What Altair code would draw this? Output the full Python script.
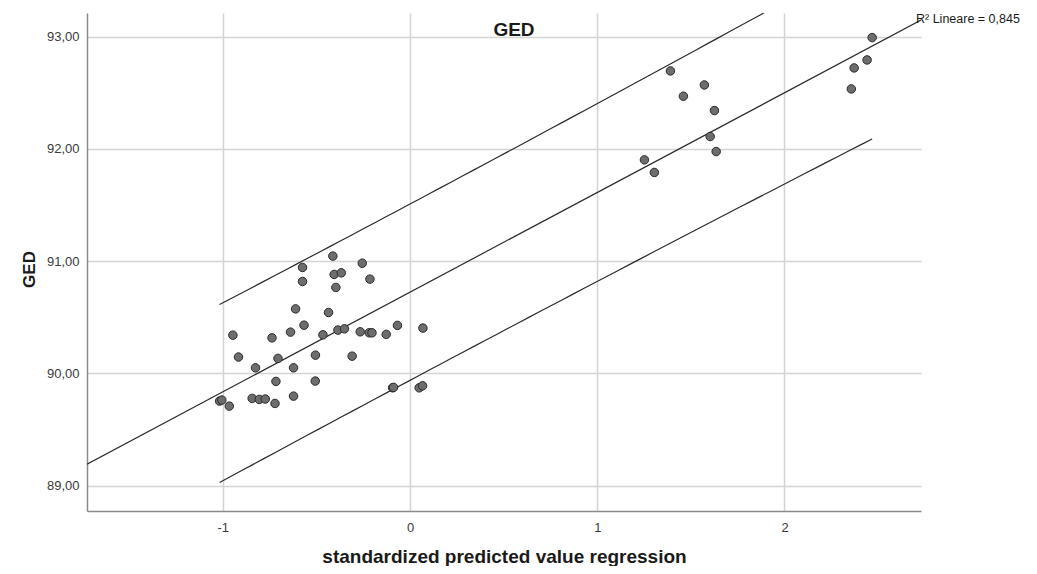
import numpy as np
import pandas as pd
import altair as alt

# standardized predicted value (x) and GED (y)
x_vals = [-0.412, -0.574, -0.255, -0.405, -0.367, -0.574, -0.214, -0.396, -0.611, -0.435,
          -0.566, -0.946, -0.737, -0.638, -0.465, -0.385, -0.350, -0.266, -0.218, -0.203,
          -0.127, -0.067, 0.069, -0.916, -0.705, -0.505, -0.309, -0.825, -0.622, -0.716,
          -0.506, -0.093, -0.088, 0.049, 0.067, -1.017, -1.005, -0.965, -0.843, -0.805,
          -0.773, -0.721, -0.622,
          1.391, 1.572, 1.460, 1.626, 1.603, 1.635, 1.252, 1.305, 2.468, 2.372, 2.441, 2.357]
y_vals = [91.045, 90.944, 90.982, 90.882, 90.896, 90.819, 90.840, 90.766, 90.575, 90.543,
          90.430, 90.341, 90.317, 90.368, 90.344, 90.386, 90.397, 90.371, 90.362, 90.362,
          90.348, 90.428, 90.404, 90.146, 90.134, 90.163, 90.154, 90.050, 90.050, 89.929,
          89.932, 89.872, 89.876, 89.872, 89.890, 89.754, 89.763, 89.709, 89.778, 89.769,
          89.772, 89.733, 89.798,
          92.694, 92.569, 92.469, 92.341, 92.110, 91.976, 91.902, 91.790, 92.991, 92.721, 92.792, 92.534]

x_ticks = [-1, 0, 1, 2]
y_ticks = [89, 90, 91, 92, 93]
x_domain = [-1.725, 2.729]
y_domain = [88.775, 93.21]
r2_label = "R² Lineare = 0,845"
T_CRIT = 2.006  # t(0.975, n-2)

FONT = "Liberation Sans"
INK = "#2b2b2b"

xa = np.array(x_vals)
ya = np.array(y_vals)
n = len(xa)
b, a = np.polyfit(xa, ya, 1)
resid = ya - (a + b * xa)
s = np.sqrt((resid ** 2).sum() / (n - 2))
xm = xa.mean()
sxx = ((xa - xm) ** 2).sum()

points = pd.DataFrame({"x": x_vals, "y": y_vals})

fit_x = np.linspace(x_domain[0], x_domain[1], 2)
fit = pd.DataFrame({"x": fit_x, "y": a + b * fit_x})

band_x = np.linspace(xa.min(), xa.max(), 60)
half = T_CRIT * s * np.sqrt(1 + 1 / n + (band_x - xm) ** 2 / sxx)
bands = pd.concat([
    pd.DataFrame({"x": band_x, "y": a + b * band_x + half, "band": "upper"}),
    pd.DataFrame({"x": band_x, "y": a + b * band_x - half, "band": "lower"}),
])

label = pd.DataFrame({"x": [x_domain[1]], "y": [a + b * x_domain[1]], "t": [r2_label]})

xs = alt.Scale(domain=x_domain, nice=False, zero=False)
ys = alt.Scale(domain=y_domain, nice=False, zero=False)

x_axis = alt.Axis(values=x_ticks, labelExpr="'' + datum.value", title="standardized predicted value regression",
                  titleFontSize=19, titleFontWeight="bold", titleFont=FONT, titleColor="#1a1a1a",
                  titleY=51, titleBaseline="alphabetic", labelPadding=10)
y_axis = alt.Axis(values=y_ticks, labelExpr="replace(format(datum.value, '.2f'), '.', ',')", title="GED",
                  titleFontSize=17, titleFontWeight="bold", titleFont=FONT, titleColor="#1a1a1a",
                  titleAngle=-90, titleX=-58, titleY=256, titleAlign="center", titleBaseline="middle",
                  labelPadding=8)

base_x = alt.X("x:Q", scale=xs, axis=x_axis)
base_y = alt.Y("y:Q", scale=ys, axis=y_axis)

pts = alt.Chart(points).mark_circle(size=72, fill="#6d6d6d", stroke=INK, strokeWidth=1, opacity=1).encode(
    x=base_x, y=base_y)

fit_line = alt.Chart(fit).mark_line(color=INK, strokeWidth=1.2, clip=True).encode(
    x=alt.X("x:Q", scale=xs), y=alt.Y("y:Q", scale=ys))

band_lines = alt.Chart(bands).mark_line(color=INK, strokeWidth=1.2, clip=True).encode(
    x=alt.X("x:Q", scale=xs), y=alt.Y("y:Q", scale=ys), detail="band:N")

txt = alt.Chart(label).mark_text(align="left", baseline="middle", dx=-5, dy=-1, fontSize=12.5,
                                 font=FONT, color="#1a1a1a").encode(
    x=alt.X("x:Q", scale=xs), y=alt.Y("y:Q", scale=ys), text="t:N")

chart = alt.layer(band_lines, fit_line, pts, txt).properties(
    width=834, height=498,
    autosize=alt.AutoSizeParams(type="none"),
    padding={"left": 79, "top": 5, "right": 108, "bottom": 55},
    title=alt.TitleParams("GED", fontSize=19, fontWeight="bold", font=FONT, color="#1a1a1a",
                          anchor="middle", offset=-27, dx=10),
).configure_view(stroke="transparent").configure_axis(
    domainColor="#8a8a8a", domainWidth=1.5, gridColor="#d4d4d4", gridWidth=1.5,
    ticks=False, labelFont=FONT, labelFontSize=13, labelColor="#3a3a3a",
)

chart.save("out.html", embed_options={"renderer": "svg", "actions": False})
